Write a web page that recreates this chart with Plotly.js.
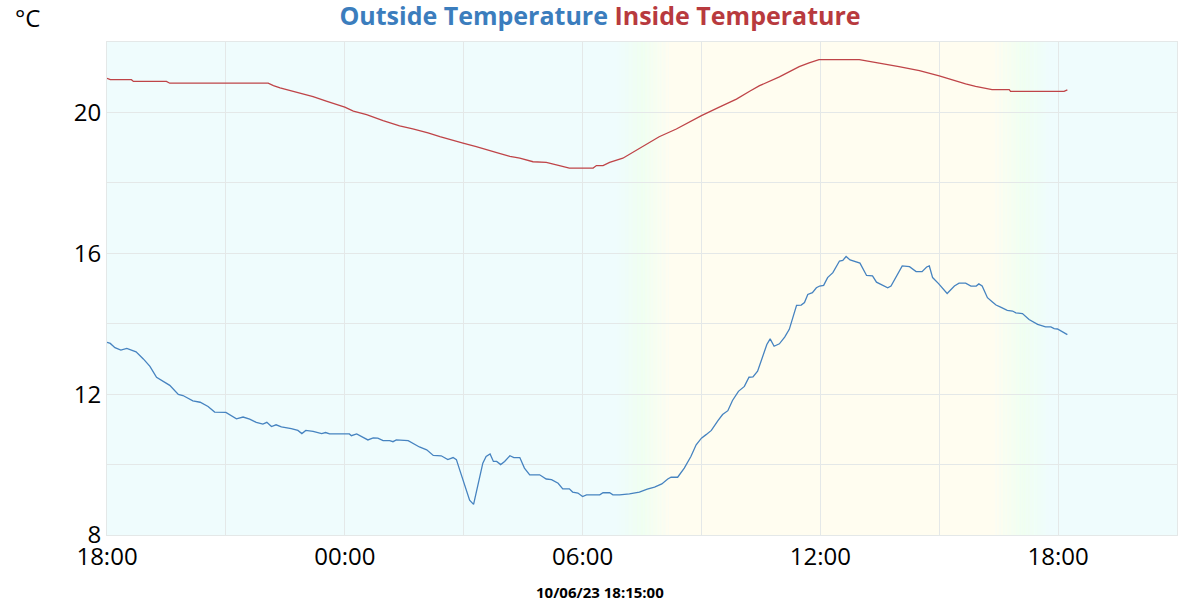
<!DOCTYPE html>
<html>
<head>
<meta charset="utf-8">
<script src="https://cdn.plot.ly/plotly-3.0.1.min.js"></script>
<style>html,body{margin:0;padding:0;background:#fff;}#chart{width:1200px;height:600px;}</style>
</head>
<body>
<div id="chart"></div>
<script>
// ---- data (readings from 2023-10-05 18:00 to 2023-10-06 18:15) ----
const startDate = "2023-10-05";
const outsideTimes = ["18:00","18:05","18:12","18:21","18:30","18:37","18:44","18:55","19:05","19:15","19:25","19:35","19:48","19:55","20:10","20:21","20:33","20:43","21:00","21:16","21:26","21:36","21:46","21:56","22:02","22:09","22:16","22:24","22:39","22:49","22:55","23:01","23:12","23:25","23:31","23:37","00:07","00:10","00:18","00:35","00:43","00:50","00:58","01:08","01:13","01:18","01:36","01:53","02:04","02:14","02:26","02:36","02:44","02:49","02:54","03:02","03:09","03:15","03:22","03:29","03:34","03:40","03:45","03:50","03:56","04:02","04:10","04:16","04:25","04:32","04:40","04:55","05:05","05:13","05:23","05:30","05:40","05:45","05:53","06:00","06:06","06:26","06:31","06:41","06:46","06:56","07:11","07:26","07:38","07:49","08:00","08:09","08:14","08:24","08:34","08:44","08:52","09:00","09:07","09:15","09:25","09:32","09:40","09:47","09:56","10:05","10:12","10:18","10:25","10:33","10:39","10:44","10:50","10:58","11:06","11:13","11:18","11:24","11:31","11:36","11:41","11:48","11:54","11:59","12:05","12:11","12:19","12:29","12:34","12:39","12:45","12:54","13:00","13:10","13:19","13:25","13:34","13:42","13:47","13:54","14:04","14:15","14:25","14:34","14:41","14:45","14:50","14:59","15:12","15:23","15:30","15:40","15:48","15:56","16:00","16:05","16:13","16:21","16:26","16:33","16:43","16:51","16:56","17:06","17:16","17:29","17:36","17:41","17:49","17:54","17:59","18:14"];
const outsideTemp = [13.47,13.44,13.32,13.25,13.30,13.25,13.20,13.00,12.79,12.48,12.36,12.25,11.99,11.96,11.81,11.77,11.65,11.49,11.48,11.30,11.35,11.29,11.20,11.15,11.20,11.08,11.13,11.07,11.02,10.97,10.88,10.97,10.94,10.88,10.91,10.87,10.87,10.82,10.87,10.70,10.76,10.75,10.68,10.68,10.65,10.70,10.68,10.50,10.42,10.26,10.25,10.14,10.20,10.14,9.85,9.38,8.99,8.87,9.47,10.04,10.23,10.30,10.09,10.09,10.00,10.09,10.25,10.20,10.20,9.90,9.71,9.71,9.59,9.57,9.47,9.31,9.31,9.22,9.19,9.09,9.14,9.14,9.20,9.20,9.14,9.14,9.17,9.22,9.30,9.36,9.45,9.59,9.64,9.64,9.90,10.23,10.56,10.75,10.85,10.97,11.25,11.42,11.53,11.82,12.08,12.22,12.48,12.49,12.65,13.12,13.41,13.57,13.36,13.43,13.62,13.84,14.17,14.52,14.53,14.60,14.83,14.88,15.02,15.07,15.09,15.31,15.45,15.78,15.80,15.91,15.81,15.76,15.72,15.37,15.36,15.18,15.10,15.02,15.07,15.31,15.64,15.62,15.48,15.48,15.61,15.64,15.31,15.14,14.86,15.07,15.15,15.15,15.07,15.07,15.13,15.07,14.74,14.61,14.53,14.47,14.38,14.36,14.31,14.29,14.12,13.98,13.95,13.91,13.91,13.86,13.85,13.69];

const insideTimes = ["18:00","18:05","18:37","18:40","19:30","19:35","22:04","22:12","22:22","22:32","22:52","23:12","23:32","00:00","00:13","00:33","00:58","01:23","01:43","02:06","02:24","02:44","02:59","03:19","03:34","03:54","04:10","04:25","04:45","05:05","05:25","05:40","06:16","06:21","06:31","06:41","07:01","07:26","07:56","08:22","09:00","09:27","09:53","10:13","10:28","10:58","11:28","11:43","11:58","12:59","13:14","13:29","13:59","14:30","15:00","15:15","15:30","15:40","15:55","16:20","16:46","16:48","18:09","18:14"];
const insideTemp = [20.97,20.93,20.93,20.88,20.88,20.83,20.83,20.76,20.70,20.65,20.56,20.45,20.32,20.15,20.04,19.94,19.77,19.62,19.53,19.42,19.31,19.20,19.13,19.03,18.94,18.84,18.75,18.70,18.60,18.58,18.49,18.42,18.42,18.49,18.49,18.58,18.70,18.98,19.31,19.53,19.91,20.15,20.38,20.60,20.76,21.01,21.30,21.41,21.50,21.50,21.44,21.40,21.30,21.19,21.04,20.95,20.87,20.81,20.74,20.65,20.65,20.60,20.60,20.64];

const seriesNames = ["Outside Temperature", "Inside Temperature"];
const seriesColors = ["#3b7dbd", "#b83a3e"];
const lineColors = ["#4683c0", "#bf4448"];
const yUnit = "°C";
const stampLabel = "10/06/23 18:15:00";
// daylight transitions (time, colour stop)
const skyStops = [["06:50","#effcfd"],["07:30","#f0fff0"],["08:10","#fffdf0"],["16:25","#fffdf0"],["17:08","#f0fff0"],["17:48","#effcfd"]];
const xStart = "2023-10-05 18:00", xEnd = "2023-10-06 21:00";

// ---- helpers ----
function pad(n){return (n<10?"0":"")+n;}
function toStamps(times){
  let day = new Date(startDate+"T00:00:00Z");
  let prev = -1, out = [];
  for (const t of times){
    const [h,m] = t.split(":").map(Number);
    const mins = h*60+m;
    if (prev>=0 && mins<prev) day = new Date(day.getTime()+86400000);
    prev = mins;
    out.push(day.toISOString().slice(0,10)+" "+pad(h)+":"+pad(m));
  }
  return out;
}
function hexToRgb(h){return [1,3,5].map(i=>parseInt(h.slice(i,i+2),16));}
function mix(a,b,f){const A=hexToRgb(a),B=hexToRgb(b);return "rgb("+A.map((v,i)=>Math.round(v+(B[i]-v)*f)).join(",")+")";}

// background sky shading shapes on 2023-10-06
const shapes = [];
const skyMins = skyStops.map(s=>{const [h,m]=s[0].split(":").map(Number);return h*60+m;});
function stamp(mins){return "2023-10-06 "+pad(Math.floor(mins/60))+":"+pad(Math.floor(mins%60));}
for (let i=0;i<skyStops.length-1;i++){
  const a=skyMins[i], b=skyMins[i+1];
  if (skyStops[i][1]===skyStops[i+1][1]){
    shapes.push({type:"rect",xref:"x",yref:"paper",x0:stamp(a),x1:stamp(b),y0:0,y1:1,fillcolor:skyStops[i][1],line:{width:0},layer:"below"});
  } else {
    for (let m=a;m<b;m+=2){
      const f=(m+1-a)/(b-a);
      shapes.push({type:"rect",xref:"x",yref:"paper",x0:stamp(m),x1:stamp(Math.min(m+2.2,b)),y0:0,y1:1,fillcolor:mix(skyStops[i][1],skyStops[i+1][1],f),line:{width:0},layer:"below"});
    }
  }
}

const traces = [
  {x:toStamps(outsideTimes), y:outsideTemp, type:"scatter", mode:"lines", name:seriesNames[0], line:{color:lineColors[0], width:1.3}},
  {x:toStamps(insideTimes), y:insideTemp, type:"scatter", mode:"lines", name:seriesNames[1], line:{color:lineColors[1], width:1.3}}
];

const gridC = "#e4e8e8";
const layout = {
  width:1200, height:600,
  margin:{l:107, r:23, t:42, b:65},
  paper_bgcolor:"#ffffff",
  plot_bgcolor:"#effcfd",
  showlegend:false,
  font:{family:"Open Sans, Noto Sans, sans-serif", color:"#000"},
  title:{
    text:'<b><span style="color:'+seriesColors[0]+'">'+seriesNames[0]+'</span> <span style="color:'+seriesColors[1]+'">'+seriesNames[1]+'</span></b>',
    x:0.5, xanchor:"center", xref:"container", y:0.973, yanchor:"middle", yref:"container",
    font:{family:"Open Sans, sans-serif", size:25}
  },
  xaxis:{
    type:"date", range:[xStart, xEnd],
    tick0:"2023-10-05 00:00", dtick:6*3600000, tickformat:"%H:%M",
    tickfont:{size:24, color:"#000"},
    showgrid:true, gridcolor:gridC, gridwidth:1,
    minor:{dtick:3*3600000, tick0:"2023-10-05 00:00", showgrid:true, gridcolor:gridC, gridwidth:1},
    showline:true, linecolor:gridC, mirror:true, zeroline:false, ticks:"", fixedrange:true
  },
  yaxis:{
    range:[8,22], tick0:0, dtick:4,
    tickfont:{size:24, color:"#000"},
    showgrid:true, gridcolor:gridC, gridwidth:1,
    minor:{dtick:2, tick0:0, showgrid:true, gridcolor:gridC, gridwidth:1},
    showline:true, linecolor:gridC, mirror:true, zeroline:false, ticks:"", fixedrange:true
  },
  shapes:shapes,
  annotations:[
    {text:yUnit, xref:"paper", yref:"paper", x:-0.088, y:1.05, xanchor:"left", yanchor:"middle", showarrow:false, font:{size:24, color:"#000"}},
    {text:"<b>"+stampLabel+"</b>", xref:"paper", yref:"paper", x:0.4607, y:-0.115, xanchor:"center", yanchor:"middle", showarrow:false, font:{size:15, color:"#000"}}
  ]
};

Plotly.newPlot("chart", traces, layout, {displayModeBar:false, staticPlot:true});
</script>
</body>
</html>
